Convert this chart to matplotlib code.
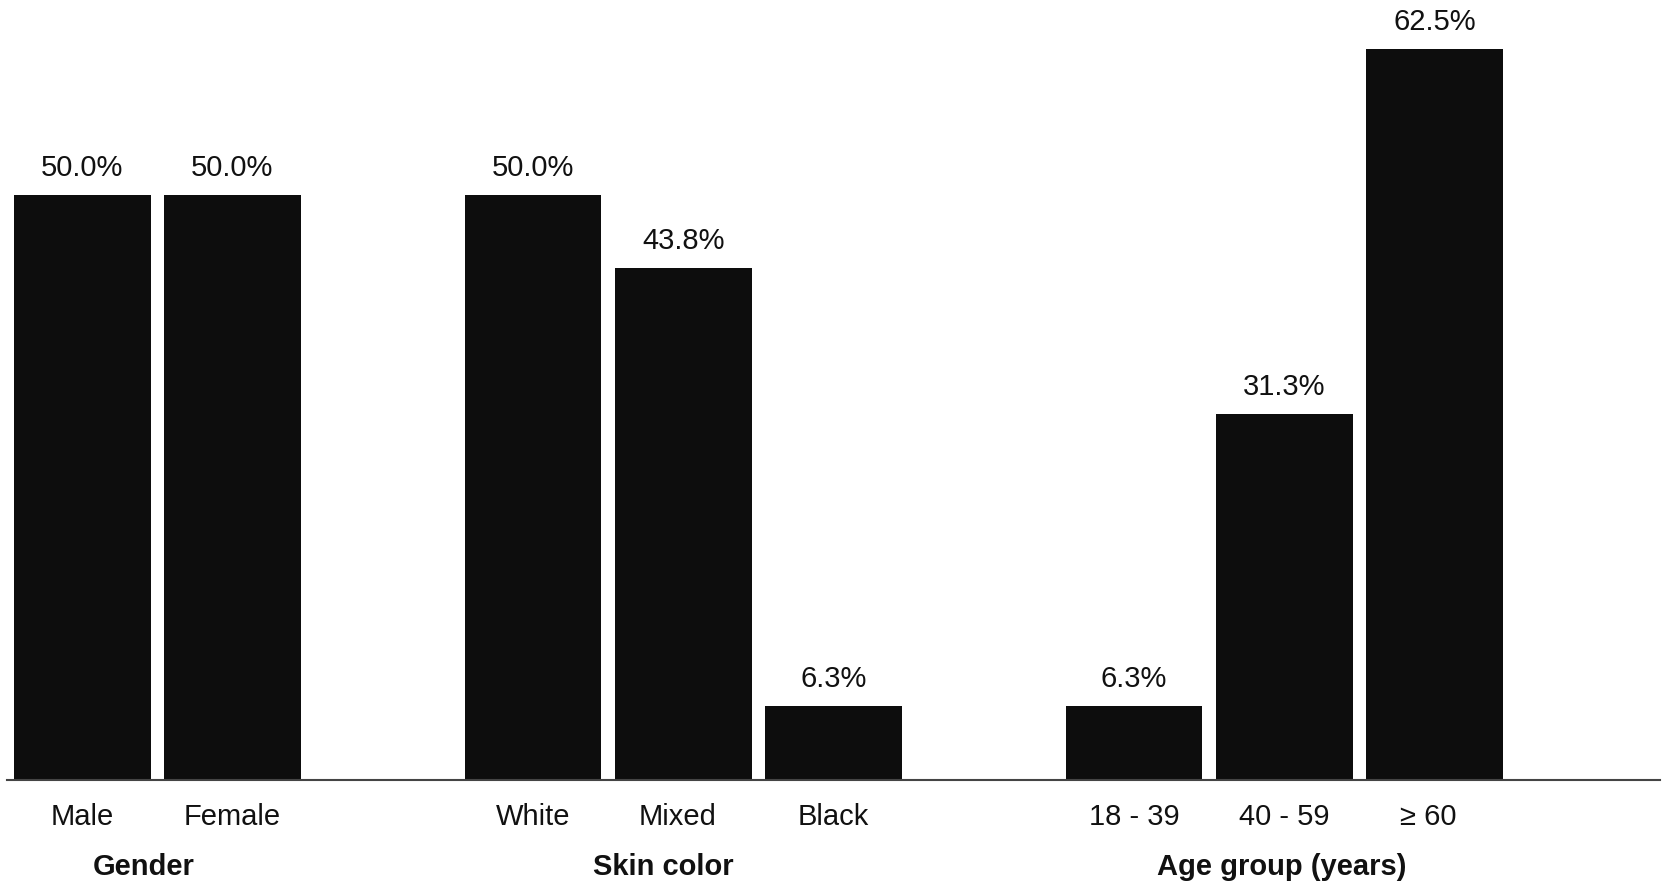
import matplotlib.pyplot as plt
import matplotlib.transforms as mtransforms

# data
categories = ['Male', 'Female', 'White', 'Mixed', 'Black', '18 - 39', '40 - 59', '\u2265 60']
values = [50.0, 50.0, 50.0, 43.8, 6.3, 6.3, 31.3, 62.5]
positions = [0, 1, 3, 4, 5, 7, 8, 9]
groups = ['Gender', 'Skin color', 'Age group (years)']
group_pos = [0.41, 3.87, 7.98]

# small nudges of the category labels, as in the original
label_shift = [0, 0, 0, -0.04, 0, 0, 0, -0.04]

plt.rcParams['font.family'] = ['Liberation Sans', 'DejaVu Sans']

fig = plt.figure(figsize=(16.67, 8.89), dpi=100)
ax = fig.add_axes([0.0042, 0.1226, 0.9916, 0.8774])

ax.bar(positions, values, width=0.91, color='#0d0d0d')

# value labels above bars
for p, v in zip(positions, values):
    ax.text(p, v + 1.62, '%.1f%%' % v, ha='center', va='baseline', fontsize=21, color='#111111')

trans = mtransforms.blended_transform_factory(ax.transData, ax.transAxes)
for p, c, d in zip(positions, categories, label_shift):
    ax.text(p + d, -0.0577, c, ha='center', va='baseline', fontsize=21, color='#111111', transform=trans)
for p, g in zip(group_pos, groups):
    ax.text(p, -0.1218, g, ha='center', va='baseline', fontsize=21, fontweight='bold',
            color='#111111', transform=trans)

ax.set_xlim(-0.5, 10.5)
ax.set_ylim(0, 66.7)
for s in ['top', 'right', 'left']:
    ax.spines[s].set_visible(False)
ax.spines['bottom'].set_color('#444444')
ax.spines['bottom'].set_linewidth(1.5)
ax.set_xticks([])
ax.set_yticks([])

fig.savefig('out.png', dpi=100)
